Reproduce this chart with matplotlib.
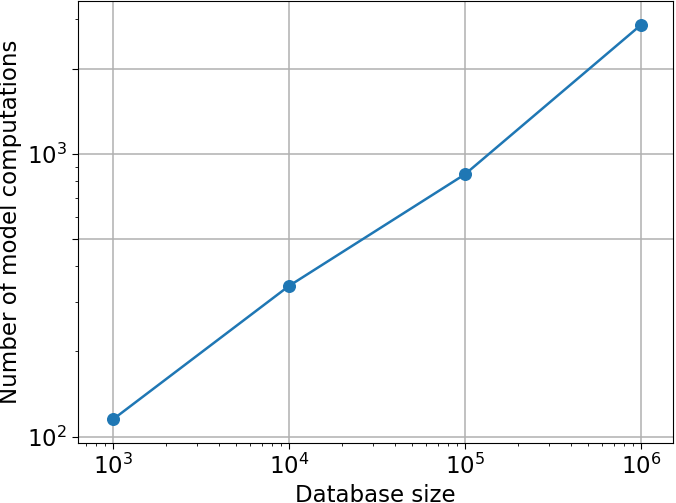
import matplotlib
matplotlib.use('Agg')
import matplotlib.pyplot as plt
from matplotlib.ticker import FixedLocator, FixedFormatter, NullFormatter

# data
db_size = [1e3, 1e4, 1e5, 1e6]
computations = [115, 341, 847, 2860]

y_major = [100, 500, 1000, 2000]
y_major_labels = ['$\\mathdefault{10^{2}}$', '', '$\\mathdefault{10^{3}}$', '']
y_minor = [200, 300, 400, 600, 700, 800, 900, 3000]

fig = plt.figure(figsize=(6.76, 5.03), dpi=100)
ax = fig.add_axes([78 / 676, 1 - 443 / 503, (673 - 78) / 676, (443 - 1) / 503])

ax.plot(db_size, computations, color='#1f77b4', linewidth=1.8)
ax.scatter(db_size, computations, color='#1f77b4', s=70, zorder=3)

ax.set_xscale('log')
ax.set_yscale('log')
ax.set_xlim(10 ** 2.801, 10 ** 6.182)
ax.set_ylim(10 ** 1.977, 10 ** 3.541)

ax.yaxis.set_major_locator(FixedLocator(y_major))
ax.yaxis.set_major_formatter(FixedFormatter(y_major_labels))
ax.yaxis.set_minor_locator(FixedLocator(y_minor))
ax.yaxis.set_minor_formatter(NullFormatter())

ax.tick_params(axis='both', which='major', labelsize=16.5, length=4.4)
ax.tick_params(axis='both', which='minor', length=2.5)
ax.grid(True, color='#b0b0b0', linewidth=1.1)

ax.set_xlabel('Database size', fontsize=16.5, va='baseline')
ax.xaxis.set_label_coords(0.5, -0.1328)
ax.set_ylabel('Number of model computations', fontsize=16.5, va='center')
ax.yaxis.set_label_coords(-0.113, 0.5)

fig.savefig('out.png', dpi=100)
